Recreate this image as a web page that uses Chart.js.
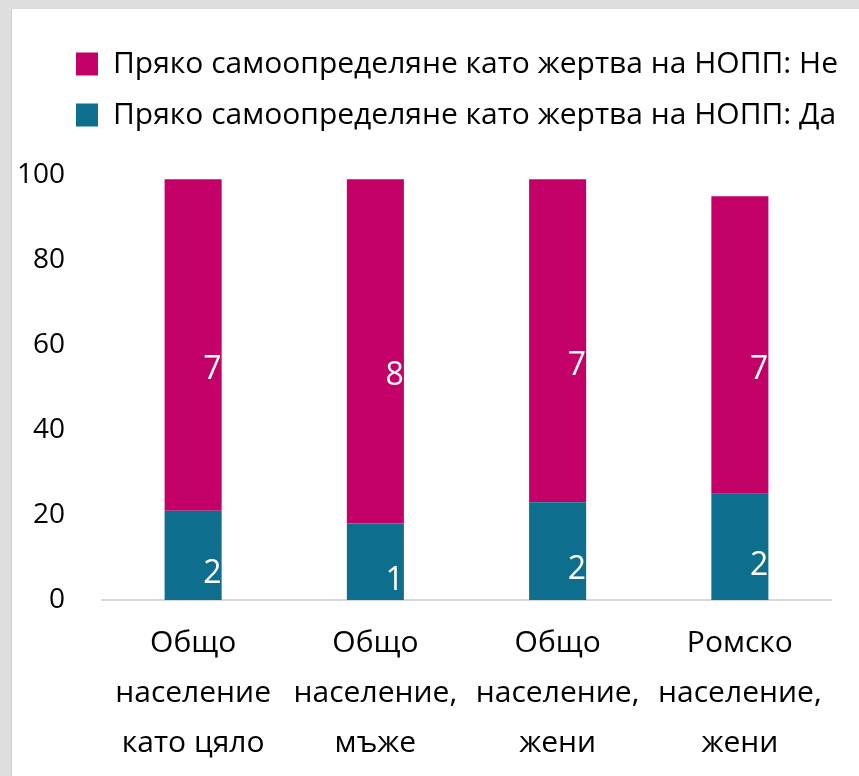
<!DOCTYPE html>
<html>
<head>
<meta charset="utf-8">
<script src="https://cdn.jsdelivr.net/npm/chart.js@4"></script>
<style>
    body {
        margin: 0;
        background: #dedede;
        width: 859px;
        height: 776px;
        overflow: hidden;
    }
    #frame {
        position: absolute;
        left: 11px;
        top: 9px;
        width: 848px;
        height: 767px;
        background: #ffffff;
        border-left: 1px solid #d0d0d0;
    }
</style>
</head>
<body>
<div id="frame">
    <canvas id="chart"></canvas>
</div>
<script>
const categories = [
    ["Общо", "население", "като цяло"],
    ["Общо", "население,", "мъже"],
    ["Общо", "население,", "жени"],
    ["Ромско", "население,", "жени"]
];

const labelYes = "Пряко самоопределяне като жертва на НОПП: Да";
const labelNo = "Пряко самоопределяне като жертва на НОПП: Не";

const valuesYes = [21, 18, 23, 25];
const valuesNo = [78, 81, 76, 70];

const yTicks = [0, 20, 40, 60, 80, 100];

const FONT = '"Open Sans", "DejaVu Sans", sans-serif';

// white value labels, drawn a bit right of the bar centre (as in the original)
const barLabels = {
    id: "barLabels",
    afterDatasetsDraw(chart, args, opts) {
        const ctx = chart.ctx;
        ctx.save();
        ctx.fillStyle = "#ffffff";
        ctx.font = `32px ${FONT}`;
        ctx.textAlign = "left";
        ctx.textBaseline = "middle";
        chart.data.datasets.forEach((ds, i) => {
            const meta = chart.getDatasetMeta(i);
            meta.data.forEach((bar, j) => {
                const midY = (bar.y + bar.base) / 2;
                ctx.fillText(String(ds.data[j]), bar.x + 10, midY + opts.offsets[i]);
            });
        });
        ctx.restore();
    }
};

// legend: fixed block height, and let it run to the right edge of the canvas
const legendSpace = {
    id: "legendSpace",
    beforeInit(chart) {
        const fit = chart.legend.fit;
        chart.legend.fit = function () {
            fit.bind(chart.legend)();
            this.height = 147;
        };
    },
    afterLayout(chart) {
        chart.legend.left = 43;
        chart.legend.right = chart.width;
    }
};

new Chart(document.getElementById("chart"), {
    type: "bar",
    data: {
        labels: categories,
        datasets: [
            {
                label: labelYes,
                data: valuesYes,
                backgroundColor: "#0d6e8e"
            },
            {
                label: labelNo,
                data: valuesNo,
                backgroundColor: "#c20067"
            }
        ]
    },
    options: {
        responsive: true,
        maintainAspectRatio: false,
        animation: false,
        layout: {
            padding: { top: 19, right: 29, bottom: 0, left: 0 }
        },
        datasets: {
            bar: {
                categoryPercentage: 1,
                barPercentage: 0.313
            }
        },
        scales: {
            x: {
                stacked: true,
                afterFit: (scale) => {
                    scale.height = 176;
                },
                grid: { display: false, drawTicks: false },
                border: { display: true, color: "#d9d9d9", width: 2 },
                ticks: {
                    color: "#000000",
                    padding: 18,
                    maxRotation: 0,
                    font: { family: FONT, size: 30, lineHeight: 1.667 }
                }
            },
            y: {
                stacked: true,
                min: 0,
                max: 100,
                afterBuildTicks: (scale) => {
                    scale.ticks = yTicks.map(v => ({ value: v }));
                },
                afterFit: (scale) => {
                    scale.width = 90;
                },
                grid: { display: false, drawTicks: false },
                border: { display: false },
                ticks: {
                    color: "#000000",
                    padding: 37,
                    font: { family: FONT, size: 28 }
                }
            }
        },
        plugins: {
            legend: {
                position: "top",
                align: "start",
                reverse: true,
                labels: {
                    color: "#000000",
                    boxWidth: 22,
                    boxHeight: 23,
                    padding: 21,
                    font: { family: FONT, size: 30 }
                }
            },
            tooltip: { enabled: false },
            barLabels: {
                offsets: [19, 25]
            }
        }
    },
    plugins: [barLabels, legendSpace]
});
</script>
</body>
</html>
